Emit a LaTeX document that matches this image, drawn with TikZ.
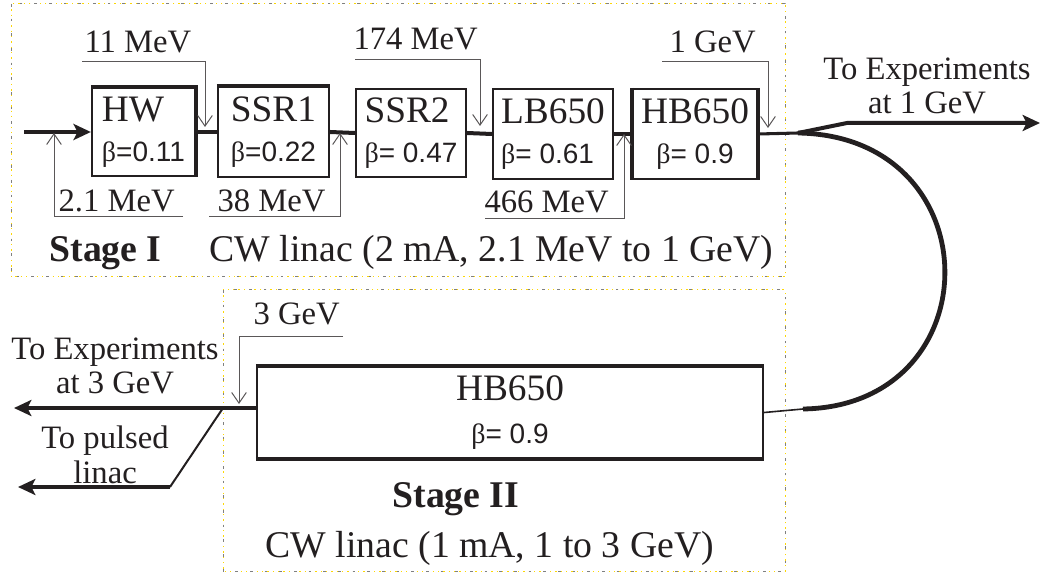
\documentclass[tikz,border=0pt]{standalone}
\usepackage{fontspec}
\setmainfont{Liberation Serif}
\setsansfont{Liberation Sans}
\usetikzlibrary{arrows.meta}
\definecolor{ink}{RGB}{35,31,32}
\tikzset{every picture/.style={line width=0.75pt}}
\tikzset{
  cavity/.style={draw=ink, line width=1.7pt, inner sep=0pt, align=left, text=ink,
    font=\fontsize{28}{30}\selectfont},
  rim/.style={draw=ink, line width=3.2pt},
  beam/.style={draw=ink, line width=3pt},
  beamtip/.style={-{Stealth[length=13pt,width=12pt,inset=3pt]}},
  energy/.style={draw=ink!75, line width=0.75pt, -{Straight Barb[length=8pt,width=11pt]}},
  elabel/.style={anchor=base west, inner sep=0pt, text=ink, font=\fontsize{24.5}{26}\selectfont},
  caption/.style={anchor=base west, inner sep=0pt, text=ink, font=\fontsize{28.3}{30}\selectfont},
  target/.style={inner sep=0pt, align=center, text=ink, font=\fontsize{24.5}{26}\selectfont},
  dots/.style={draw=yellow!75!orange, line width=0.75pt, dash pattern={on 1pt off 3pt}},
  dashes/.style={draw=gray, line width=0.75pt, dash pattern={on 2pt off 9pt}}
}
\newcommand{\bval}[1]{{\fontsize{21}{24}\selectfont β\sffamily=#1}}

\begin{document}
\begin{tikzpicture}[x=0.75pt,y=0.75pt,yscale=-1,xscale=1]
\useasboundingbox (0,0) rectangle (1045,573);

%Stage frames
\draw[dots] (11,4) rectangle (785,277);
\draw[dashes] (11,4) rectangle (785,277);
\draw[dots] (223,290) rectangle (785,571);
\draw[dashes] (223,290) rectangle (785,571);

%Stage I cavities
\node[cavity, minimum width=77.25pt, minimum height=66pt] (hw) at (143.5,132) {HW\\\bval{0.11}};
\node[cavity, minimum width=83.25pt, minimum height=67.5pt] (ssr1) at (273.5,132) {SSR1\\\bval{0.22}};
\node[cavity, minimum width=82.5pt, minimum height=66pt] (ssr2) at (411,133) {SSR2\\\bval{ 0.47}};
\node[cavity, minimum width=90pt, minimum height=67.5pt] (lb) at (553,134) {LB650\\\bval{ 0.61}};
\node[cavity, align=center, minimum width=93pt, minimum height=67.5pt] (hb) at (695,134) {HB650\\\bval{ 0.9}};
\draw[rim] (hw.north west) -- (hw.north east) -- (hw.south east);
\draw[rim] (ssr1.north west) -- (ssr1.north east);
\draw[rim] (hb.north west) -- (hb.south west);
\draw[rim] (hb.north east) -- (hb.south east);

%Stage II cavity
\node[cavity, align=center, minimum width=379.5pt, minimum height=68.25pt] (hbtwo) at (510,412.5) {HB650\\[2pt]\bval{ 0.9}};
\draw[rim] (hbtwo.north west) -- (hbtwo.north east);
\draw[rim] (hbtwo.south west) -- (hbtwo.south east);

%Beam line
\coordinate (inj) at (24,132);
\coordinate (split) at (798,133);
\coordinate (kinkone) at (847,123);
\coordinate (expone) at (1040,123);
\coordinate (join) at (803,409);
\coordinate (tap) at (223,408);
\coordinate (expthree) at (14,408);
\coordinate (kinktwo) at (170,487);
\coordinate (pulsed) at (18,487);
\draw[beam, beamtip] (inj) -- (hw.west);
\draw[beam] (hw.east) -- (ssr1.west);
\draw[beam] (ssr1.east) -- (ssr2.west);
\draw[beam] (ssr2.east) -- (lb.west);
\draw[beam] (lb.east) -- (hb.west);
\draw[beam, line width=2.3pt] (hb.east) -- (split);
\draw[beam, beamtip] (split) -- (kinkone) -- (expone);
\draw[ink, line width=3.6pt] (split) .. controls (993,136) and (993,406) .. (join);
\draw[ink, line width=1.2pt] (join) -- (hbtwo.east);
\draw[beam, beamtip] (tap -| hbtwo.west) -- (expthree);
\draw[ink, line width=1.5pt] (tap) -- (kinktwo);
\draw[beam, beamtip] (kinktwo) -- (pulsed);

%Energy marks
\coordinate (f11) at (82,62);     \coordinate (t11) at (205,127);
\coordinate (f21) at (183,217);   \coordinate (t21) at (54,133);
\coordinate (f38) at (209,217);   \coordinate (t38) at (340,133);
\coordinate (f174) at (355,60);   \coordinate (t174) at (480,126);
\coordinate (f466) at (485,219);  \coordinate (t466) at (624,134);
\coordinate (f1g) at (662,62);    \coordinate (t1g) at (768,128);
\coordinate (f3g) at (343,337);   \coordinate (t3g) at (239,404);
\draw[energy] (f11) -| (t11);
\draw[energy] (f21) -| (t21);
\draw[energy] (f38) -| (t38);
\draw[energy] (f174) -| (t174);
\draw[energy] (f466) -| (t466);
\draw[energy] (f1g) -| (t1g);
\draw[energy] (f3g) -| (t3g);

% Text Node
\node[elabel] (l11) at (84,53) {11 MeV};
\node[elabel] (l21) at (58,212) {2.1 MeV};
\node[elabel] (l38) at (217,212) {38 MeV};
\node[elabel] (l174) at (353,50) {174 MeV};
\node[elabel] (l466) at (484,213) {466 MeV};
\node[elabel] (l1g) at (669,53) {1 GeV};
\node[elabel] (l3g) at (253,325) {3 GeV};

% Text Node
\node[caption, font=\fontsize{28.3}{30}\selectfont\bfseries] (stone) at (49,262) {Stage I};
\node[caption] (cwone) at (209,262) {CW linac (2 mA, 2.1 MeV to 1 GeV)};
\node[caption, font=\fontsize{28.3}{30}\selectfont\bfseries] (sttwo) at (392,507) {Stage II};
\node[caption] (cwtwo) at (265,557) {CW linac (1 mA, 1 to 3 GeV)};
\node[target] (toone) at (927,86) {To Experiments\\at 1 GeV};
\node[target] (tothree) at (115,366) {To Experiments\\at 3 GeV};
\node[target] (topulse) at (105,455) {To pulsed\\linac};
\end{tikzpicture}
\end{document}
